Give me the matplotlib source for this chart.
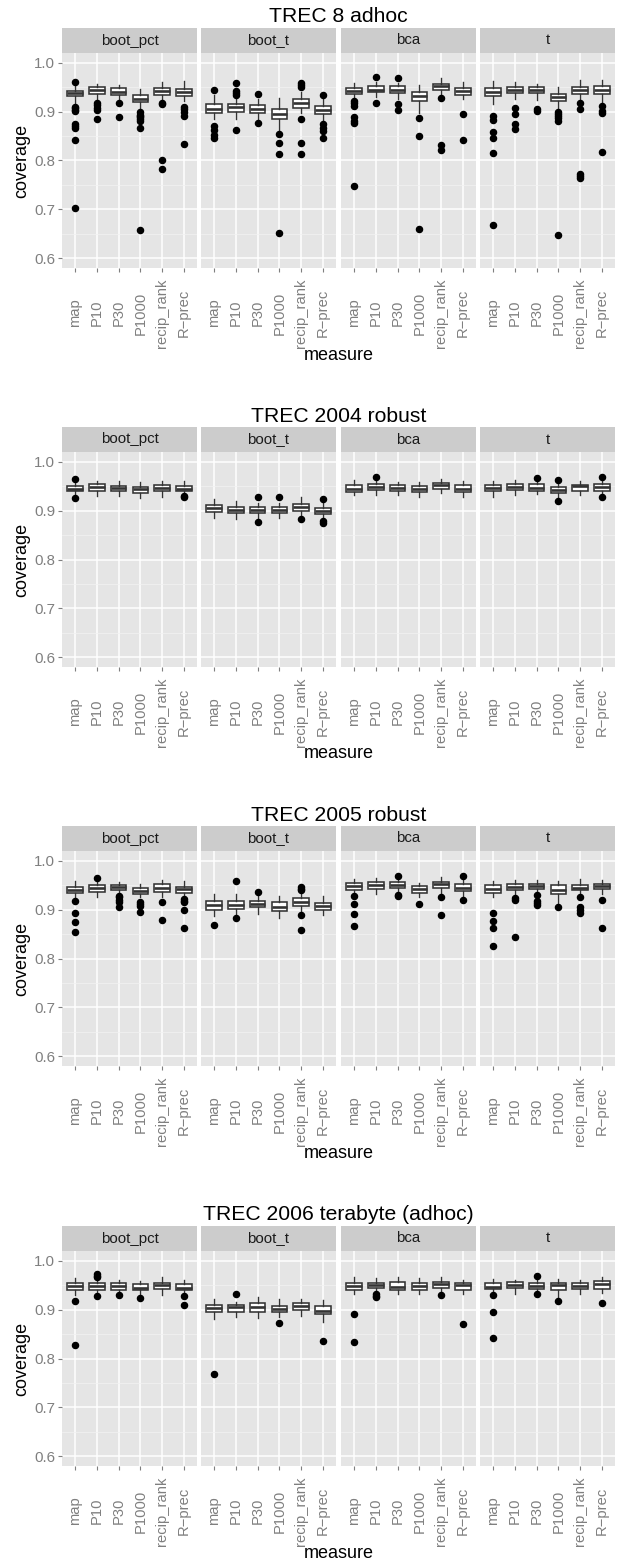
import matplotlib
matplotlib.use("Agg")
import matplotlib.pyplot as plt
from matplotlib.patches import Rectangle

plt.rcParams['font.family'] = ['Liberation Sans', 'DejaVu Sans']

# ---------------- data ----------------
TITLES = ["TREC 8 adhoc", "TREC 2004 robust", "TREC 2005 robust", "TREC 2006 terabyte (adhoc)"]
METHODS = ["boot_pct", "boot_t", "bca", "t"]
MEASURES = ["map", "P10", "P30", "P1000", "recip_rank", "R\u2212prec"]
Y_TICKS = [0.6, 0.7, 0.8, 0.9, 1.0]
Y_TICK_LABELS = ["0.6", "0.7", "0.8", "0.9", "1.0"]
Y_LIMITS = (0.6, 1.0)

# TREC 8 adhoc  (rows: boot_pct, boot_t, bca, t; columns: measures)
T8_MED = [[.938, .944, .941, .926, .942, .940],
          [.906, .909, .906, .895, .918, .903],
          [.943, .945, .945, .932, .952, .942],
          [.941, .945, .944, .929, .944, .944]]
T8_Q1 = [[.933, .936, .934, .920, .935, .933],
         [.897, .900, .897, .885, .908, .895],
         [.937, .940, .939, .922, .945, .935],
         [.933, .939, .938, .922, .936, .937]]
T8_Q3 = [[.943, .950, .948, .934, .949, .947],
         [.915, .916, .913, .905, .925, .911],
         [.949, .952, .952, .940, .957, .948],
         [.948, .951, .950, .937, .950, .952]]
T8_WLO = [[.918, .925, .925, .908, .922, .922],
          [.884, .884, .884, .860, .898, .881],
          [.925, .930, .925, .898, .935, .925],
          [.915, .925, .924, .905, .922, .918]]
T8_WHI = [[.955, .956, .955, .946, .960, .962],
          [.934, .928, .925, .928, .940, .925],
          [.958, .960, .959, .955, .969, .960],
          [.963, .960, .957, .950, .964, .965]]
T8_OUT = [[[.960, .910, .907, .904, .901, .875, .871, .867, .841, .702],
           [.918, .913, .908, .903, .884],
           [.917, .888],
           [.899, .894, .891, .888, .884, .881, .867, .657],
           [.918, .915, .800, .782],
           [.910, .905, .899, .891, .833]],
          [[.945, .870, .862, .853, .847],
           [.958, .943, .939, .934, .862],
           [.937, .876],
           [.855, .836, .813, .651],
           [.958, .954, .950, .885, .835, .813],
           [.935, .874, .867, .860, .847]],
          [[.922, .917, .911, .888, .881, .876, .748],
           [.970, .917],
           [.968, .916, .903],
           [.886, .851, .659],
           [.928, .831, .821],
           [.896, .841]],
          [[.892, .882, .858, .847, .815, .669],
           [.908, .896, .875, .864],
           [.905, .901],
           [.900, .896, .891, .886, .881, .647],
           [.917, .905, .773, .768, .764],
           [.911, .901, .898, .817]]]

# TREC 2004 robust
R04_MED = [[.945, .948, .946, .944, .946, .945],
           [.905, .901, .901, .901, .907, .899],
           [.945, .949, .947, .944, .952, .945],
           [.946, .949, .947, .943, .950, .948]]
R04_Q1 = [[.940, .941, .941, .937, .940, .940],
          [.898, .895, .895, .895, .900, .893],
          [.939, .942, .941, .938, .945, .939],
          [.940, .943, .940, .937, .941, .941]]
R04_Q3 = [[.950, .954, .951, .949, .952, .951],
          [.911, .908, .908, .908, .913, .906],
          [.952, .954, .952, .951, .956, .952],
          [.952, .954, .954, .949, .953, .954]]
R04_WLO = [[.934, .930, .930, .925, .928, .933],
           [.884, .882, .884, .884, .891, .884],
           [.932, .932, .932, .928, .937, .928],
           [.928, .932, .934, .928, .932, .935]]
R04_WHI = [[.958, .960, .960, .959, .961, .960],
           [.923, .920, .915, .915, .928, .915],
           [.962, .961, .958, .959, .964, .960],
           [.960, .962, .958, .956, .960, .961]]
R04_OUT = [[[.964, .925], [], [], [], [], [.930, .927]],
           [[], [], [.927, .877], [.927], [.882], [.923, .878, .875]],
           [[], [.968], [], [], [], []],
           [[], [], [.966], [.962, .920], [], [.969, .927]]]

# TREC 2005 robust
R05_MED = [[.941, .944, .947, .939, .945, .942],
           [.909, .910, .911, .906, .916, .907],
           [.948, .950, .950, .942, .952, .945],
           [.942, .947, .948, .940, .945, .948]]
R05_Q1 = [[.935, .937, .941, .932, .937, .935],
          [.900, .901, .905, .898, .908, .900],
          [.941, .943, .944, .935, .945, .939],
          [.934, .941, .942, .933, .941, .942]]
R05_Q3 = [[.947, .950, .951, .944, .952, .947],
          [.918, .918, .918, .915, .923, .913],
          [.954, .956, .956, .948, .957, .952],
          [.950, .952, .952, .950, .951, .952]]
R05_WLO = [[.925, .925, .933, .925, .925, .925],
           [.888, .891, .892, .883, .898, .889],
           [.933, .932, .933, .925, .933, .928],
           [.925, .932, .933, .908, .932, .932]]
R05_WHI = [[.958, .958, .956, .952, .960, .958],
           [.933, .931, .928, .928, .933, .927],
           [.962, .964, .962, .954, .966, .960],
           [.959, .961, .960, .959, .962, .961]]
R05_OUT = [[[.917, .894, .874, .855],
            [.964],
            [.928, .925, .920, .915, .906],
            [.915, .911, .908, .896],
            [.915, .879],
            [.922, .918, .915, .900, .862]],
           [[.868],
            [.958, .882],
            [.937],
            [],
            [.947, .943, .941, .889, .859],
            []],
           [[.927, .911, .892, .867],
            [],
            [.969, .930, .927],
            [.911],
            [.925, .889],
            [.968, .920]],
           [[.894, .876, .862, .825],
            [.923, .920, .845],
            [.930, .918, .914, .909],
            [.905],
            [.925, .905, .899, .894],
            [.920, .862]]]

# TREC 2006 terabyte (adhoc)
T06_MED = [[.948, .948, .948, .945, .950, .945],
           [.903, .905, .905, .901, .908, .898],
           [.948, .950, .947, .948, .952, .950],
           [.947, .951, .949, .950, .948, .952]]
T06_Q1 = [[.941, .941, .941, .940, .942, .940],
          [.895, .896, .895, .895, .900, .892],
          [.941, .944, .940, .941, .945, .941],
          [.942, .944, .942, .940, .942, .943]]
T06_Q3 = [[.954, .954, .954, .952, .955, .952],
          [.909, .909, .913, .908, .913, .908],
          [.954, .955, .956, .954, .957, .955],
          [.954, .956, .955, .954, .954, .958]]
T06_WLO = [[.930, .932, .933, .932, .930, .932],
           [.881, .884, .882, .884, .888, .875],
           [.932, .935, .933, .932, .935, .932],
           [.935, .932, .935, .925, .932, .935]]
T06_WHI = [[.964, .960, .961, .958, .966, .960],
           [.922, .916, .925, .922, .922, .920],
           [.966, .965, .966, .965, .966, .960],
           [.963, .961, .962, .962, .961, .966]]
T06_OUT = [[[.917, .828], [.973, .969, .966, .927], [.930], [.923], [], [.927, .909]],
           [[.768], [.932], [], [.872], [], [.836]],
           [[.892, .833], [.932, .928, .926], [], [], [.930], [.870]],
           [[.930, .896, .841], [], [.968, .932], [.917], [], [.913]]]

DATASETS = [
    (T8_MED, T8_Q1, T8_Q3, T8_WLO, T8_WHI, T8_OUT),
    (R04_MED, R04_Q1, R04_Q3, R04_WLO, R04_WHI, R04_OUT),
    (R05_MED, R05_Q1, R05_Q3, R05_WLO, R05_WHI, R05_OUT),
    (T06_MED, T06_Q1, T06_Q3, T06_WLO, T06_WHI, T06_OUT),
]

# ---------------- layout (pixels) ----------------
W, H = 627, 1562
fig = plt.figure(figsize=(W / 100, H / 100), dpi=100)

BLOCK_OFFSETS = [0, 399, 798, 1198]
FACET_X = [(62, 197), (201, 336), (341, 476), (480, 615)]
STRIP_TOP, PLOT_TOP, PLOT_BOT = 28, 53, 268

GREY50 = '#7F7F7F'
PANEL_BG = '#E5E5E5'
STRIP_BG = '#CCCCCC'
BOX_COL = '#333333'


def frect(x0, y0, x1, y1):
    return [x0 / W, 1 - y1 / H, (x1 - x0) / W, (y1 - y0) / H]


rng = Y_LIMITS[1] - Y_LIMITS[0]
ylim = (Y_LIMITS[0] - 0.05 * rng, Y_LIMITS[1] + 0.05 * rng)
positions = list(range(1, len(MEASURES) + 1))
minor_ticks = [0.65, 0.75, 0.85, 0.95]

for b, (title, data) in enumerate(zip(TITLES, DATASETS)):
    oy = BLOCK_OFFSETS[b]
    med, q1, q3, wlo, whi, outs = data
    for m, method in enumerate(METHODS):
        x0, x1 = FACET_X[m]
        ax = fig.add_axes(frect(x0, PLOT_TOP + oy, x1, PLOT_BOT + oy))
        ax.set_facecolor(PANEL_BG)
        ax.set_axisbelow(True)
        for s in ax.spines.values():
            s.set_visible(False)
        stats = []
        for i in range(len(MEASURES)):
            stats.append(dict(med=med[m][i], q1=q1[m][i], q3=q3[m][i],
                              whislo=wlo[m][i], whishi=whi[m][i],
                              fliers=outs[m][i]))
        ax.bxp(stats, positions=positions, widths=0.72, patch_artist=True,
               showcaps=False,
               boxprops=dict(facecolor='white', edgecolor=BOX_COL, linewidth=1.15),
               medianprops=dict(color=BOX_COL, linewidth=1.9),
               whiskerprops=dict(color=BOX_COL, linewidth=1.0),
               flierprops=dict(marker='o', markerfacecolor='black',
                               markeredgecolor='black', markersize=4.4,
                               linestyle='none'))
        ax.set_xlim(0.4, len(MEASURES) + 0.6)
        ax.set_ylim(*ylim)
        ax.set_yticks(Y_TICKS)
        ax.set_yticks(minor_ticks, minor=True)
        ax.set_xticks(positions)
        ax.grid(True, which='major', color='white', linewidth=1.1)
        ax.grid(True, which='minor', axis='y', color='#F2F2F2', linewidth=0.55)
        ax.tick_params(axis='y', which='minor', length=0)
        ax.set_xticklabels(MEASURES, rotation=90, va='center', ha='center',
                           fontsize=10.6, color=GREY50)
        ax.tick_params(axis='x', length=2.9, width=0.8, color=GREY50, pad=29.5)
        if m == 0:
            ax.set_yticklabels(Y_TICK_LABELS, fontsize=10.8, color=GREY50)
            ax.tick_params(axis='y', which='major', length=2.9, width=0.8,
                           color=GREY50, pad=2)
        else:
            ax.tick_params(axis='y', which='major', length=0, labelleft=False)

        # strip
        sax = fig.add_axes(frect(x0, STRIP_TOP + oy, x1, PLOT_TOP + oy))
        sax.set_xlim(0, 1)
        sax.set_ylim(0, 1)
        sax.add_patch(Rectangle((0, 0), 1, 1, facecolor=STRIP_BG, edgecolor='none'))
        sax.text(0.5, 0.5, method, ha='center', va='center', fontsize=10.8,
                 color='#1A1A1A')
        sax.axis('off')

    cx = (FACET_X[0][0] + FACET_X[-1][1]) / 2
    fig.text(cx / W, 1 - (17 + oy) / H, title, ha='center', va='center',
             fontsize=15.2, color='black')
    fig.text(cx / W, 1 - (355 + oy) / H, "measure", ha='center', va='center',
             fontsize=13, color='black')
    fig.text(22 / W, 1 - ((PLOT_TOP + PLOT_BOT) / 2 + oy) / H, "coverage",
             ha='center', va='center', rotation=90, fontsize=13, color='black')

fig.savefig("out.png", dpi=100)
